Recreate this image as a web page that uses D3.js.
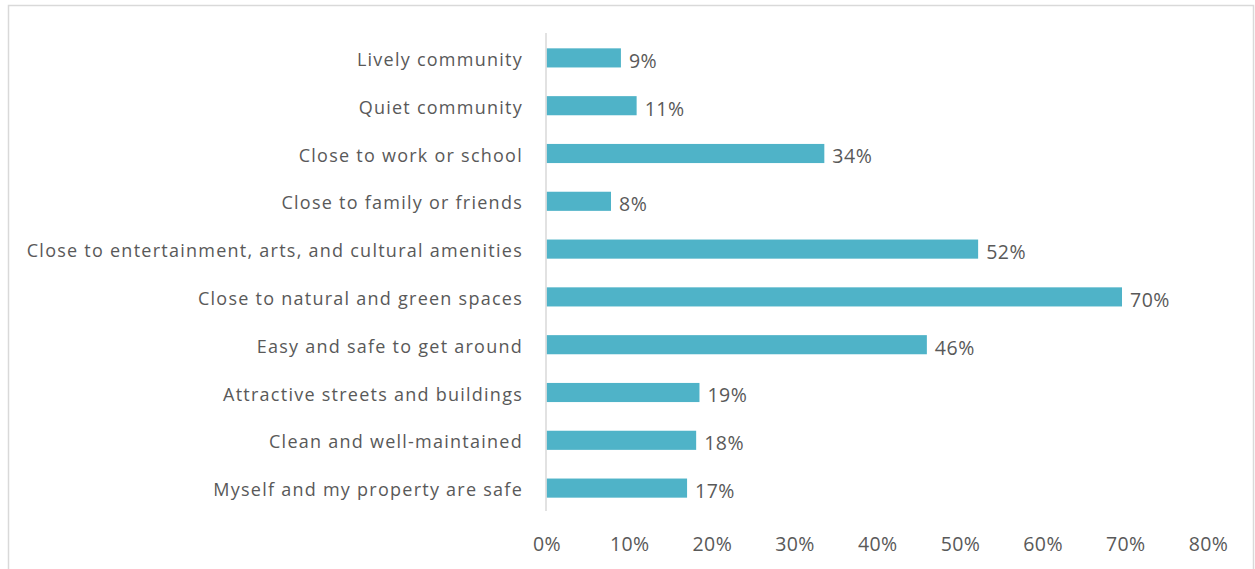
<!DOCTYPE html>
<html>
<head>
<meta charset="utf-8">
<script src="https://cdn.jsdelivr.net/npm/d3@7"></script>
<style>
  html, body { margin: 0; padding: 0; background: #ffffff; }
  svg { display: block; }
  text { font-family: "Open Sans", "Noto Sans", sans-serif; fill: #595959; }
</style>
</head>
<body>
<svg id="chart" width="1255" height="569"></svg>
<script>
const categories = [
  "Lively community",
  "Quiet community",
  "Close to work or school",
  "Close to family or friends",
  "Close to entertainment, arts, and cultural amenities",
  "Close to natural and green spaces",
  "Easy and safe to get around",
  "Attractive streets and buildings",
  "Clean and well-maintained",
  "Myself and my property are safe"
];
const values = [9.0, 10.9, 33.6, 7.8, 52.2, 69.6, 46.0, 18.5, 18.1, 17.0];
const tickValues = [0, 10, 20, 30, 40, 50, 60, 70, 80];
const tickLabels = ["0%", "10%", "20%", "30%", "40%", "50%", "60%", "70%", "80%"];

const svg = d3.select("#chart");

// outer chart border
svg.append("rect")
  .attr("x", 8.5).attr("y", 5.5)
  .attr("width", 1245).attr("height", 580)
  .attr("fill", "none").attr("stroke", "#d9d9d9").attr("stroke-width", 1.5);

const x = d3.scaleLinear().domain([0, 80]).range([546.5, 1208]);
const y = d3.scaleBand().domain(categories).range([34, 512])
  .paddingInner(0.6).paddingOuter(0.3);

// bars
svg.append("g").selectAll("rect")
  .data(categories)
  .join("rect")
  .attr("x", x(0))
  .attr("y", d => y(d))
  .attr("width", (d, i) => x(values[i]) - x(0))
  .attr("height", y.bandwidth())
  .attr("fill", "#4fb3c8");

// y axis (category labels + vertical line)
const yAxis = d3.axisLeft(y).tickSize(0).tickPadding(23);
const gy = svg.append("g").attr("transform", `translate(${x(0) - 0.5},0)`).call(yAxis);
gy.select(".domain").attr("stroke", "#d9d9d9").attr("stroke-width", 1.5)
  .attr("d", "M0,33V511");
gy.selectAll("text")
  .style("font-size", "18px")
  .style("letter-spacing", "1.25px")
  .attr("dy", "0.45em")
  .attr("fill", "#595959");

// x axis tick labels (no line)
const xAxis = d3.axisBottom(x).tickValues(tickValues)
  .tickFormat((d, i) => tickLabels[i]).tickSize(0).tickPadding(0);
const gx = svg.append("g").attr("transform", `translate(0,537)`).call(xAxis);
gx.select(".domain").remove();
gx.selectAll("text")
  .style("font-size", "19.5px")
  .style("letter-spacing", "0.4px")
  .attr("fill", "#595959");

// value labels
svg.append("g").selectAll("text")
  .data(categories)
  .join("text")
  .attr("x", (d, i) => x(values[i]) + 8)
  .attr("y", d => y(d) + y.bandwidth() / 2 + 2)
  .attr("dy", "0.4em")
  .style("font-size", "19.5px")
  .style("letter-spacing", "0.5px")
  .text((d, i) => Math.round(values[i]) + "%");
</script>
</body>
</html>
